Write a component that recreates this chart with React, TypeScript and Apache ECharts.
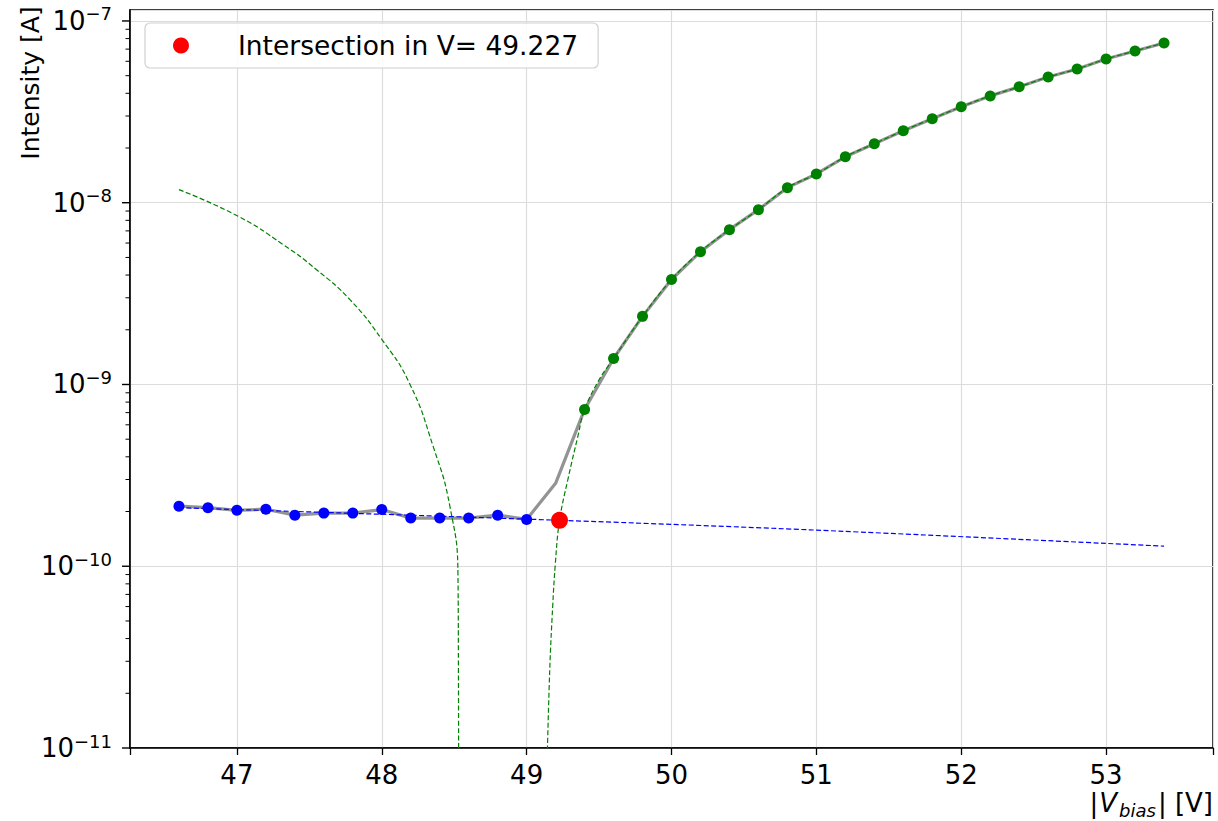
import React, { useEffect, useRef } from "react";
import * as echarts from "echarts";

// ---- data ----
const blueV = [46.6, 46.8, 47.0, 47.2, 47.4, 47.6, 47.8, 48.0, 48.2, 48.4, 48.6, 48.8, 49.0];
const blueI = [2.14e-10, 2.1e-10, 2.03e-10, 2.06e-10, 1.91e-10, 1.96e-10, 1.96e-10, 2.05e-10, 1.84e-10, 1.84e-10, 1.84e-10, 1.91e-10, 1.81e-10];
const midV = [49.2];
const midI = [2.86e-10];
const greenV = [49.4, 49.6, 49.8, 50.0, 50.2, 50.4, 50.6, 50.8, 51.0, 51.2, 51.4, 51.6, 51.8, 52.0, 52.2, 52.4, 52.6, 52.8, 53.0, 53.2, 53.4];
const greenI = [7.29e-10, 1.39e-9, 2.37e-9, 3.78e-9, 5.38e-9, 7.11e-9, 9.16e-9, 1.21e-8, 1.44e-8, 1.79e-8, 2.11e-8, 2.49e-8, 2.9e-8, 3.37e-8, 3.87e-8, 4.34e-8, 4.92e-8, 5.44e-8, 6.18e-8, 6.84e-8, 7.57e-8];

const blueFitV = [46.6, 49.227, 51.0, 53.4];
const blueFitI = [2.1e-10, 1.79e-10, 1.58e-10, 1.29e-10];

const greenFitLeftV = [46.6, 47.01, 47.32, 47.55, 47.78, 48.0, 48.19, 48.354, 48.47, 48.526, 48.529, 48.531];
const greenFitLeftI = [1.18e-8, 8.41e-9, 5.88e-9, 4.28e-9, 2.93e-9, 1.77e-9, 1.02e-9, 4.58e-10, 2.14e-10, 8.85e-11, 3e-11, 5e-12];

const greenFitRightV = [49.134, 49.159, 49.18, 49.198, 49.227, 49.285, 49.354, 49.4, 49.503, 49.6, 49.8, 50.0, 50.2, 50.4, 50.6, 50.8, 51.0, 51.2, 51.4, 51.6, 51.8, 52.0, 52.2, 52.4, 52.6, 52.8, 53.0, 53.2, 53.4];
const greenFitRightI = [5e-12, 2.62e-11, 6.05e-11, 1.03e-10, 1.79e-10, 3.01e-10, 5.2e-10, 7.29e-10, 1.07e-9, 1.39e-9, 2.37e-9, 3.78e-9, 5.38e-9, 7.11e-9, 9.16e-9, 1.21e-8, 1.44e-8, 1.79e-8, 2.11e-8, 2.49e-8, 2.9e-8, 3.37e-8, 3.87e-8, 4.34e-8, 4.92e-8, 5.44e-8, 6.18e-8, 6.84e-8, 7.57e-8];

const intersectionV = 49.227;
const intersectionI = 1.79e-10;

const yDecadeExponents = [-11, -10, -9, -8, -7];
const minorMultipliers = [2, 3, 4, 5, 6, 7, 8, 9];

const X_MIN = 46.262;
const X_MAX = 53.738;
const Y_MIN = 1e-11;
const Y_MAX = 1.149e-7;

const FONT = "DejaVu Sans";
const FS = 26;

const zip = (xs: number[], ys: number[]) => xs.map((x, i) => [x, ys[i]]);

export default function App() {
  const ref = useRef<HTMLDivElement>(null);

  useEffect(() => {
    if (!ref.current) return;
    const chart = echarts.init(ref.current, undefined, { renderer: "svg" });

    const allV = [...blueV, ...midV, ...greenV];
    const allI = [...blueI, ...midI, ...greenI];

    // tick marks of the log axis, positioned by the axis scale at the left edge
    const yMajor = yDecadeExponents.map((e) => Math.pow(10, e));
    const yMinor: number[] = [];
    for (const e of yDecadeExponents) {
      for (const k of minorMultipliers) {
        const v = k * Math.pow(10, e);
        if (v < Y_MAX) yMinor.push(v);
      }
    }

    const lineBlack = { show: true, onZero: false, lineStyle: { color: "#000", width: 1.6 } };
    const legendName = `Intersection in V= ${intersectionV.toFixed(3)}`;

    chart.setOption({
      animation: false,
      backgroundColor: "#ffffff",
      textStyle: { fontFamily: FONT },
      grid: {
        left: 130,
        right: 5,
        top: 10,
        bottom: 73,
        show: true,
        borderColor: "#000",
        borderWidth: 1.6,
        backgroundColor: "transparent",
      },
      legend: {
        left: 145,
        top: 23,
        data: [{ name: legendName, icon: "circle" }],
        itemWidth: 16,
        itemHeight: 16,
        padding: [9, 20, 9, 28],
        backgroundColor: "rgba(255,255,255,0.85)",
        borderColor: "#d0d0d0",
        borderWidth: 1.2,
        borderRadius: 5,
        selectedMode: false,
        formatter: (n: string) => `{t|${n}}`,
        textStyle: {
          rich: {
            t: { fontSize: 26.5, fontFamily: FONT, color: "#000", padding: [0, 0, 0, 44] },
          },
        },
      },
      xAxis: {
        type: "value",
        min: X_MIN,
        max: X_MAX,
        splitNumber: 7,
        axisLine: lineBlack,
        axisTick: {
          show: true,
          length: 7,
          inside: false,
          lineStyle: { color: "#000", width: 1.3 },
        },
        splitLine: { show: true, lineStyle: { color: "#dcdcdc", width: 1.2 } },
        axisLabel: {
          fontSize: FS,
          fontFamily: FONT,
          color: "#000",
          margin: 14,
          formatter: (v: number) => (Math.abs(v - Math.round(v)) < 1e-6 ? String(Math.round(v)) : ""),
        },
      },
      yAxis: {
        type: "log",
        logBase: 10,
        min: Y_MIN,
        max: Y_MAX,
        axisLine: lineBlack,
        axisTick: { show: false },
        minorTick: { show: false },
        splitLine: { show: true, lineStyle: { color: "#dcdcdc", width: 1.2 } },
        axisLabel: {
          margin: 18,
          color: "#000",
          formatter: (v: number) => {
            const e = Math.log10(v);
            const r = Math.round(e);
            if (Math.abs(e - r) > 1e-6) return "";
            return `{b|10}{s|\u2212${-r}}`;
          },
          rich: {
            b: { fontSize: FS, fontFamily: FONT, color: "#000", lineHeight: 32 },
            s: { fontSize: 18, fontFamily: FONT, color: "#000", lineHeight: 18, verticalAlign: "top" },
          },
        },
      },
      graphic: {
        elements: [
          {
            type: "text",
            x: 30,
            y: 83,
            rotation: Math.PI / 2,
            style: {
              text: "Intensity [A]",
              font: `25px "${FONT}"`,
              fill: "#000",
              align: "center",
              verticalAlign: "middle",
            },
          },
          {
            type: "text",
            x: 1213,
            y: 803,
            style: {
              text: "{n||}{i|V}{sub|bias}{n|| [V]}",
              font: `${FS}px "${FONT}"`,
              fill: "#000",
              align: "right",
              verticalAlign: "middle",
              rich: {
                n: { fontSize: FS, fontFamily: FONT, lineHeight: 32 },
                i: { fontSize: FS, fontStyle: "italic", fontFamily: FONT, lineHeight: 32, padding: [0, 1, 0, 1] },
                sub: { fontSize: 18, fontStyle: "italic", fontFamily: FONT, lineHeight: 18, verticalAlign: "bottom", padding: [0, 2, 0, 1] },
              },
            },
          },
        ],
      },
      series: [
        {
          type: "line",
          name: "data",
          data: zip(allV, allI),
          symbol: "none",
          lineStyle: { color: "rgba(128,128,128,0.85)", width: 3.2 },
          z: 2,
          silent: true,
        },
        {
          type: "line",
          name: "blueFit",
          data: zip(blueFitV, blueFitI),
          symbol: "none",
          smooth: 0.3,
          lineStyle: { color: "#0000ff", width: 1.2, type: [5, 2.5] },
          z: 3,
          silent: true,
        },
        {
          type: "line",
          name: "greenFitLeft",
          data: zip(greenFitLeftV, greenFitLeftI),
          symbol: "none",
          smooth: 0.5,
          lineStyle: { color: "#008000", width: 1.2, type: [5, 2.5] },
          z: 3,
          silent: true,
        },
        {
          type: "line",
          name: "greenFitRight",
          data: zip(greenFitRightV, greenFitRightI),
          symbol: "none",
          smooth: 0.4,
          lineStyle: { color: "#008000", width: 1.2, type: [5, 2.5] },
          z: 3,
          silent: true,
        },
        {
          type: "scatter",
          name: "below",
          data: zip(blueV, blueI),
          symbol: "circle",
          symbolSize: 11,
          itemStyle: { color: "#0000ff", opacity: 1 },
          z: 4,
          silent: true,
        },
        {
          type: "scatter",
          name: "above",
          data: zip(greenV, greenI),
          symbol: "circle",
          symbolSize: 11,
          itemStyle: { color: "#008000", opacity: 1 },
          z: 4,
          silent: true,
        },
        {
          type: "scatter",
          name: legendName,
          data: [[intersectionV, intersectionI]],
          symbol: "circle",
          symbolSize: 17,
          itemStyle: { color: "#ff0000", opacity: 1 },
          z: 5,
          silent: true,
        },
        {
          type: "scatter",
          name: "yMajorTicks",
          data: yMajor.map((v) => [X_MIN, v]),
          symbol: "rect",
          symbolSize: [8, 1.4],
          symbolOffset: [-4, 0],
          clip: false,
          itemStyle: { color: "#000", opacity: 1 },
          z: 6,
          silent: true,
        },
        {
          type: "scatter",
          name: "yMinorTicks",
          data: yMinor.map((v) => [X_MIN, v]),
          symbol: "rect",
          symbolSize: [4.5, 1],
          symbolOffset: [-2.25, 0],
          clip: false,
          itemStyle: { color: "#000", opacity: 1 },
          z: 6,
          silent: true,
        },
      ],
    });

    return () => chart.dispose();
  }, []);

  return (
    <div
      ref={ref}
      style={{ position: "absolute", left: 0, top: 0, width: 1218, height: 821 }}
    />
  );
}
